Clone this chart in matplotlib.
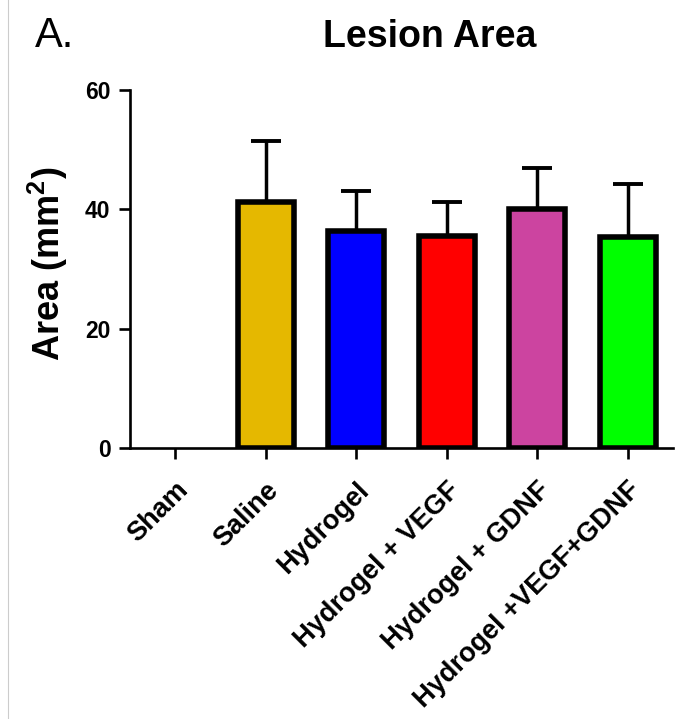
import matplotlib
matplotlib.use('Agg')
import matplotlib.pyplot as plt
import matplotlib.transforms as mtransforms
from matplotlib.lines import Line2D

plt.rcParams['font.family'] = ['Liberation Sans', 'DejaVu Sans']
plt.rcParams['mathtext.fontset'] = 'custom'
plt.rcParams['mathtext.bf'] = 'Liberation Sans:bold'
plt.rcParams['mathtext.rm'] = 'Liberation Sans'

# data
groups = ['Sham', 'Saline', 'Hydrogel', 'Hydrogel + VEGF', 'Hydrogel + GDNF',
          'Hydrogel +VEGF+GDNF']
area = [0.0, 41.2, 36.3, 35.6, 40.1, 35.4]
err = [0.0, 10.2, 6.8, 5.6, 6.9, 8.9]
colors = ['white', '#E5B800', '#0000FF', '#FF0000', '#CC44A0', '#00FF00']


def main():
    fig = plt.figure(figsize=(6.93, 7.19), dpi=100)
    ax = fig.add_axes([0.1876, 0.3769, 0.7836, 0.4979])

    x = list(range(len(groups)))
    ax.errorbar(x[1:], area[1:], yerr=[[0] * (len(x) - 1), err[1:]],
                fmt='none', ecolor='black', elinewidth=2.5, capsize=11,
                capthick=2.8, zorder=1)
    ax.bar(x[1:], area[1:], width=0.62, color=colors[1:], edgecolor='black',
           linewidth=4.0, zorder=2)

    ax.set_xlim(-0.5, 5.5)
    ax.set_ylim(0, 60)
    ax.set_yticks([0, 20, 40, 60])
    ax.set_xticks(x)
    ax.set_xticklabels(groups, rotation=45, ha='right', rotation_mode='anchor',
                       fontsize=19.5, fontweight='bold')
    shift = mtransforms.ScaledTranslation(6 / 100, 0, fig.dpi_scale_trans)
    for lab in ax.get_xticklabels():
        lab.set_transform(lab.get_transform() + shift)
    for lab in ax.get_yticklabels():
        lab.set_fontsize(16.5)
        lab.set_fontweight('bold')

    for s in ['top', 'right']:
        ax.spines[s].set_visible(False)
    for s in ['left', 'bottom']:
        ax.spines[s].set_linewidth(1.9)
    ax.tick_params(axis='both', width=1.9, length=8)
    ax.tick_params(axis='x', pad=13)
    ax.tick_params(axis='y', pad=6)

    fig.text(48 / 693, 1 - 264 / 719, 'Area (mm$^{\\mathbf{2}}$)', fontsize=26,
             fontweight='bold', rotation=90, ha='center', va='center')
    fig.text(430 / 693, 1 - 47 / 719, 'Lesion Area', fontsize=27,
             fontweight='bold', ha='center', va='baseline')
    fig.text(35 / 693, 1 - 47 / 719, 'A.', fontsize=30, ha='left',
             va='baseline')

    # faint border line at the left edge
    fig.add_artist(Line2D([8 / 693, 8 / 693], [0, 1], color='#cccccc',
                          linewidth=0.8, transform=fig.transFigure))

    fig.savefig('out.png', dpi=100)


if __name__ == '__main__':
    main()
